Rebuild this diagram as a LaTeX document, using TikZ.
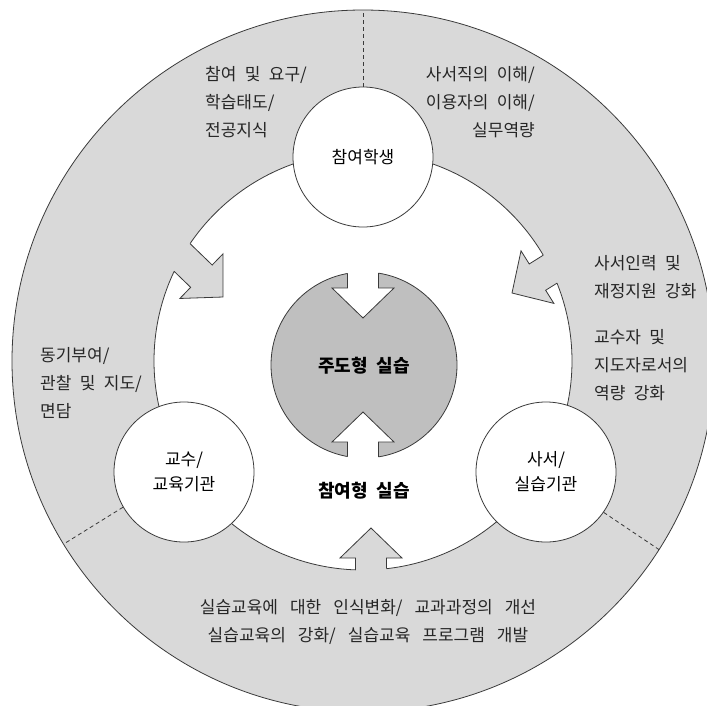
\documentclass[tikz,border=0pt]{standalone}
\usepackage{fontspec}
\setmainfont{Noto Sans CJK KR}[WordSpace=2.2]
\definecolor{ringgray}{HTML}{D9D9D9}
\definecolor{coregray}{HTML}{BFBFBF}
\definecolor{linegray}{HTML}{3A3A3A}
\newcommand{\arrowpath}{(0,0) -- (-30,31) -- (-30,15.5) -- (-80,15.5) -- (-80,-15.5) -- (-30,-15.5) -- (-30,-31) -- cycle}
\newcommand{\widesp}{\spaceskip=12pt\relax}
\tikzset{
  outl/.style={draw=linegray, line width=0.8pt},
  nodecirc/.style={circle, outl, fill=white, minimum size=140pt, inner sep=0pt, align=center, font=\fontsize{17}{25}\selectfont},
  lbl/.style={inner sep=0pt, font=\fontsize{17}{28}\selectfont, text=black!85},
  boldlbl/.style={inner sep=0pt, font=\fontsize{18}{22}\selectfont\bfseries},
  dashln/.style={draw=linegray, line width=0.8pt, dash pattern=on 4pt off 3pt}
}
\begin{document}
\begin{tikzpicture}[x=1pt, y=-1pt]
\useasboundingbox (0,0) rectangle (707,705);
\clip (0,0) rectangle (707,705);
\coordinate (C) at (363,361);
\coordinate (K) at (364,365);
% outer ring
\filldraw[fill=ringgray, outl] (C) circle (351);
% white inner disk
\filldraw[fill=white, outl] (C) circle (209);
% gray arrows from ring
\begin{scope}[shift={(223,297)}, rotate=-44]\fill[ringgray] \arrowpath;\end{scope}
\begin{scope}[shift={(512,293)}, rotate=-148]\fill[ringgray] \arrowpath;\end{scope}
\begin{scope}[shift={(371,528)}, rotate=90]\fill[ringgray] \arrowpath;\end{scope}
\begin{scope}
  \clip (C) circle (209);
  \begin{scope}[shift={(223,297)}, rotate=-44]\draw[outl] \arrowpath;\end{scope}
  \begin{scope}[shift={(512,293)}, rotate=-148]\draw[outl] \arrowpath;\end{scope}
  \begin{scope}[shift={(371,528)}, rotate=90]\draw[outl] \arrowpath;\end{scope}
\end{scope}
% central gray disk with white notches
\filldraw[fill=coregray, outl] (K) circle (93);
\begin{scope}[shift={(363,318)}, rotate=-90]\fill[white] \arrowpath;\end{scope}
\begin{scope}[shift={(363,412)}, rotate=90]\fill[white] \arrowpath;\end{scope}
\begin{scope}
  \clip (K) circle (93);
  \begin{scope}[shift={(363,318)}, rotate=-90]\draw[outl] \arrowpath;\end{scope}
  \begin{scope}[shift={(363,412)}, rotate=90]\draw[outl] \arrowpath;\end{scope}
\end{scope}
% node circles
\node[nodecirc] (student) at (363,157) {참여학생};
\node[nodecirc] (prof) at (184,472) {교수/\\교육기관};
\node[nodecirc] (lib) at (546,472) {사서/\\실습기관};
% dashed separators
\coordinate (topend) at (363,10);
\coordinate (leftend) at (63.7,544);
\coordinate (rightend) at (659,549.6);
\draw[dashln] (student.north) -- (topend);
\draw[dashln] (prof.210) -- (leftend);
\draw[dashln] (lib.-35) -- (rightend);
% center labels
\node[boldlbl] (core) at (364,366) {주도형 실습};
\node[boldlbl] (part) at (364,491) {참여형 실습};
% ring labels
\node[lbl, align=left, anchor=west] (tl) at (205,102) {참여 및 요구/\\학습태도/\\전공지식};
\node[lbl, align=right, anchor=east] (tr) at (535,102) {사서직의 이해/\\이용자의 이해/\\실무역량};
\node[lbl, align=left, anchor=west] (lt) at (40,383) {동기부여/\\관찰 및 지도/\\면담};
\node[lbl, align=left, anchor=west] (r1) at (594,277.5) {사서인력 및\\재정지원 강화};
\node[lbl, align=left, anchor=west] (r2) at (594,365) {교수자 및\\지도자로서의\\역량 강화};
\node[lbl, align=center, font=\fontsize{17}{28}\selectfont\widesp] (bt) at (368,622) {실습교육에 대한 인식변화/ 교과과정의 개선\\실습교육의 강화/ 실습교육 프로그램 개발};
\end{tikzpicture}
\end{document}
